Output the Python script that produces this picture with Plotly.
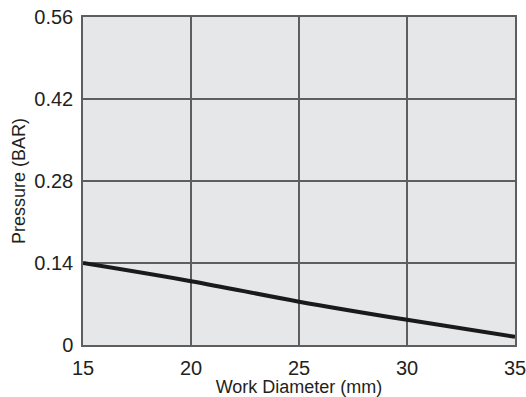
import plotly.graph_objects as go

diameter_mm = [15, 20, 25, 30, 35]
pressure_bar = [0.140, 0.109, 0.074, 0.043, 0.014]

x_ticks = [15, 20, 25, 30, 35]
y_ticks = [0, 0.14, 0.28, 0.42, 0.56]
y_labels = ["0", "0.14", "0.28", "0.42", "0.56"]

font_family = "Liberation Sans Narrow, Arial Narrow, Liberation Sans, Arial, sans-serif"

fig = go.Figure()
fig.add_trace(go.Scatter(
    x=diameter_mm, y=pressure_bar, mode="lines",
    line=dict(color="#1a1a1a", width=4, shape="spline"),
    showlegend=False,
))

fig.update_layout(
    width=526, height=397,
    margin=dict(l=83, r=11, t=17, b=52, autoexpand=False),
    paper_bgcolor="white",
    plot_bgcolor="#e6e7e8",
    font=dict(family=font_family, color="#231f20", size=18),
)

fig.update_xaxes(
    range=[15, 35], tickvals=x_ticks,
    showgrid=True, gridcolor="#5e5e5e", gridwidth=1.5,
    showline=True, linecolor="#5e5e5e", linewidth=1.5, mirror=True,
    zeroline=False, ticks="", ticklabelstandoff=4,
    ticklabeloverflow="allow", automargin=False,
    title=dict(text="Work Diameter (mm)", font=dict(size=18), standoff=2),
    tickfont=dict(size=20),
)
fig.update_yaxes(
    range=[0, 0.56], tickvals=y_ticks, ticktext=y_labels,
    showgrid=True, gridcolor="#5e5e5e", gridwidth=1.5,
    showline=True, linecolor="#5e5e5e", linewidth=1.5, mirror=True,
    zeroline=False, ticks="", ticklabelstandoff=4,
    ticklabeloverflow="allow", automargin=False,
    title=dict(text="Pressure (BAR)", font=dict(size=18), standoff=4),
    tickfont=dict(size=20),
)

# drop the default 8px body margin so the figure fills the window
fig.write_html(
    "out.html",
    config={"displayModeBar": False},
    post_script="document.body.style.margin = '0';",
)
